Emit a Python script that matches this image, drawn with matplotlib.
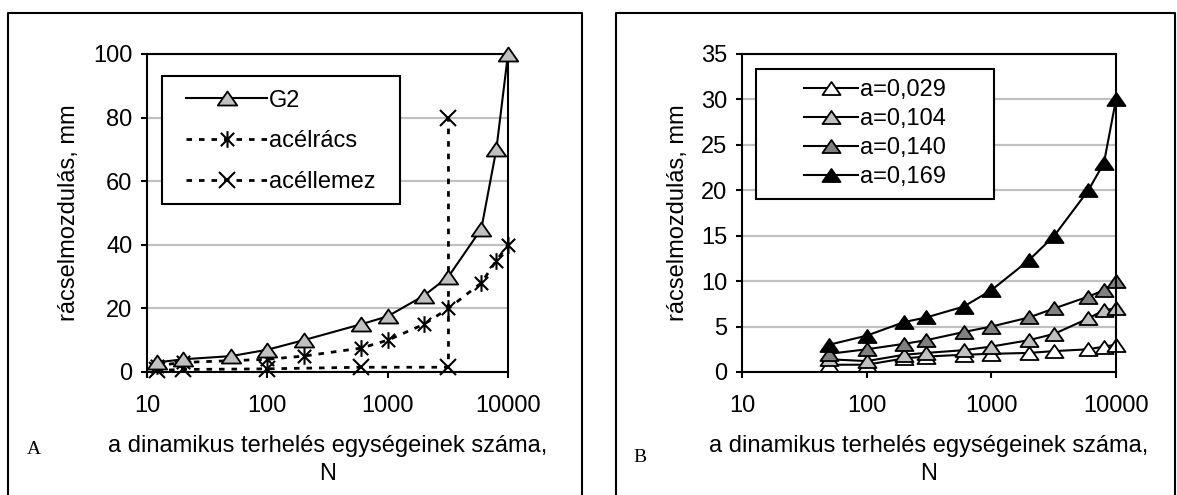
import matplotlib
matplotlib.use('Agg')
import matplotlib.pyplot as plt
from matplotlib.path import Path
from matplotlib.lines import Line2D
from matplotlib.patches import Rectangle
from matplotlib.ticker import NullLocator, FixedLocator, FixedFormatter

plt.rcParams['font.family'] = ['Liberation Sans', 'DejaVu Sans']

W, H = 1177, 495
FS = 17

# --- panel A: G2 / steel grid / steel plate ---
g2_n = [12, 20, 50, 100, 200, 600, 1000, 2000, 3200, 6000, 8000, 10000]
g2_u = [3, 4, 5, 7, 10, 15, 17.5, 24, 30, 45, 70, 100]
racs_n = [12, 20, 100, 200, 600, 1000, 2000, 3200, 6000, 8000, 10000]
racs_u = [2, 3, 4, 5, 7.5, 10, 15, 20, 28, 35, 40]
lemez_n = [12, 20, 100, 600, 3200, 3200]
lemez_u = [0.5, 0.8, 1, 1.5, 1.5, 80]

# --- panel B: different a values ---
b_n = [50, 100, 200, 300, 600, 1000, 2000, 3200, 6000, 8000, 10000]
a029 = [0.8, 0.8, 1.5, 1.7, 1.9, 2, 2.1, 2.3, 2.5, 2.8, 3]
a104 = [1.4, 1.2, 1.9, 2.1, 2.4, 2.8, 3.5, 4.2, 5.9, 6.8, 7]
a140 = [2, 2.5, 3.1, 3.5, 4.4, 5, 6, 7, 8.3, 9, 10]
a169 = [3, 4, 5.5, 6, 7.2, 9, 12.3, 15, 20, 23, 30]
b_labels = ['a=0,029', 'a=0,104', 'a=0,140', 'a=0,169']
b_colors = ['white', '#C0C0C0', '#808080', 'black']

xticks = [10, 100, 1000, 10000]
xlabel = 'a dinamikus terhelés egységeinek száma,'
ylabel = 'rácselmozdulás, mm'

tri = Path([(0, 0.72), (-1, -0.72), (1, -0.72), (0, 0.72)], closed=True)
star = Path([(-1, -1), (1, 1), (-1, 1), (1, -1), (0, -1.25), (0, 1.25)],
            [Path.MOVETO, Path.LINETO, Path.MOVETO, Path.LINETO, Path.MOVETO, Path.LINETO])
dash = (0, (2, 2.5))


def fx(px):
    return px / W


def fy(py):
    return 1 - py / H


def style_axes(ax, ymax, ystep):
    ax.set_xscale('log')
    ax.set_xlim(10, 10000)
    ax.set_ylim(0, ymax)
    ax.xaxis.set_major_locator(FixedLocator(xticks))
    ax.xaxis.set_major_formatter(FixedFormatter([str(t) for t in xticks]))
    ax.xaxis.set_minor_locator(NullLocator())
    ax.set_yticks(range(0, ymax + 1, ystep))
    ax.yaxis.grid(True, color='#C0C0C0', lw=1.6)
    ax.set_axisbelow(True)
    for s in ax.spines.values():
        s.set_linewidth(1.5)
    ax.tick_params(axis='both', direction='out', length=4.5, width=1.5, labelsize=FS)
    ax.tick_params(axis='x', pad=12)
    ax.tick_params(axis='y', pad=6)


fig = plt.figure(figsize=(W / 100, H / 100), dpi=100)

# outer frames
for x0, x1 in [(8, 582), (616, 1175)]:
    fig.add_artist(Line2D([fx(x0), fx(x0), fx(x1), fx(x1)], [0, fy(13), fy(13), 0],
                          transform=fig.transFigure, color='black', lw=1.5))

# panel A
axA = fig.add_axes([fx(147), fy(372), fx(508) - fx(147), fy(54) - fy(372)])
style_axes(axA, 100, 20)
axA.plot(g2_n, g2_u, color='black', lw=1.5, marker=tri, ms=14, mfc='#C0C0C0',
         mec='black', mew=1.3, clip_on=False, label='G2', zorder=4)
axA.plot(racs_n, racs_u, color='black', lw=2, ls=dash, marker=star, ms=12,
         mfc='none', mec='black', mew=1.5, clip_on=False, label='acélrács', zorder=3)
axA.plot(lemez_n, lemez_u, color='black', lw=2, ls=dash, marker='x', ms=12,
         mec='black', mew=1.5, clip_on=False, label='acéllemez', zorder=3)

axA.add_patch(Rectangle((0.042, 0.528), 0.658, 0.403, transform=axA.transAxes,
                        fill=True, fc='white', ec='black', lw=1.5, zorder=5))
axA.legend(loc='center', bbox_to_anchor=(0.371, 0.725), frameon=False, fontsize=FS,
           handlelength=3.4, handletextpad=0.1, labelspacing=0.8, borderpad=0.2)
axA.get_legend().set_zorder(6)

# panel B
axB = fig.add_axes([fx(742), fy(372), fx(1116) - fx(742), fy(54) - fy(372)])
style_axes(axB, 35, 5)
for vals, lab, col in zip([a029, a104, a140, a169], b_labels, b_colors):
    axB.plot(b_n, vals, color='black', lw=1.5, marker=tri, ms=13, mfc=col,
             mec='black', mew=1.3, clip_on=False, label=lab)
axB.add_patch(Rectangle((0.037, 0.544), 0.637, 0.409, transform=axB.transAxes,
                        fill=True, fc='white', ec='black', lw=1.5, zorder=5))
axB.legend(loc='center', bbox_to_anchor=(0.356, 0.749), frameon=False, fontsize=FS,
           handlelength=2.3, handletextpad=0.1, labelspacing=0.3, borderpad=0.2)
axB.get_legend().set_zorder(6)

# axis titles as figure text
for cx, lx in [(327.5, 69), (929, 678)]:
    fig.text(fx(cx), fy(446), xlabel, ha='center', va='center', fontsize=FS)
    fig.text(fx(cx), fy(474), 'N', ha='center', va='center', fontsize=FS)
    fig.text(fx(lx), fy(213), ylabel, ha='center', va='center', rotation=90, fontsize=FS)
fig.text(fx(34), fy(449), 'A', ha='center', va='center', fontsize=14,
         family=['Liberation Serif', 'DejaVu Serif'])
fig.text(fx(640), fy(457), 'B', ha='center', va='center', fontsize=14,
         family=['Liberation Serif', 'DejaVu Serif'])

fig.savefig('out.png', dpi=100)
